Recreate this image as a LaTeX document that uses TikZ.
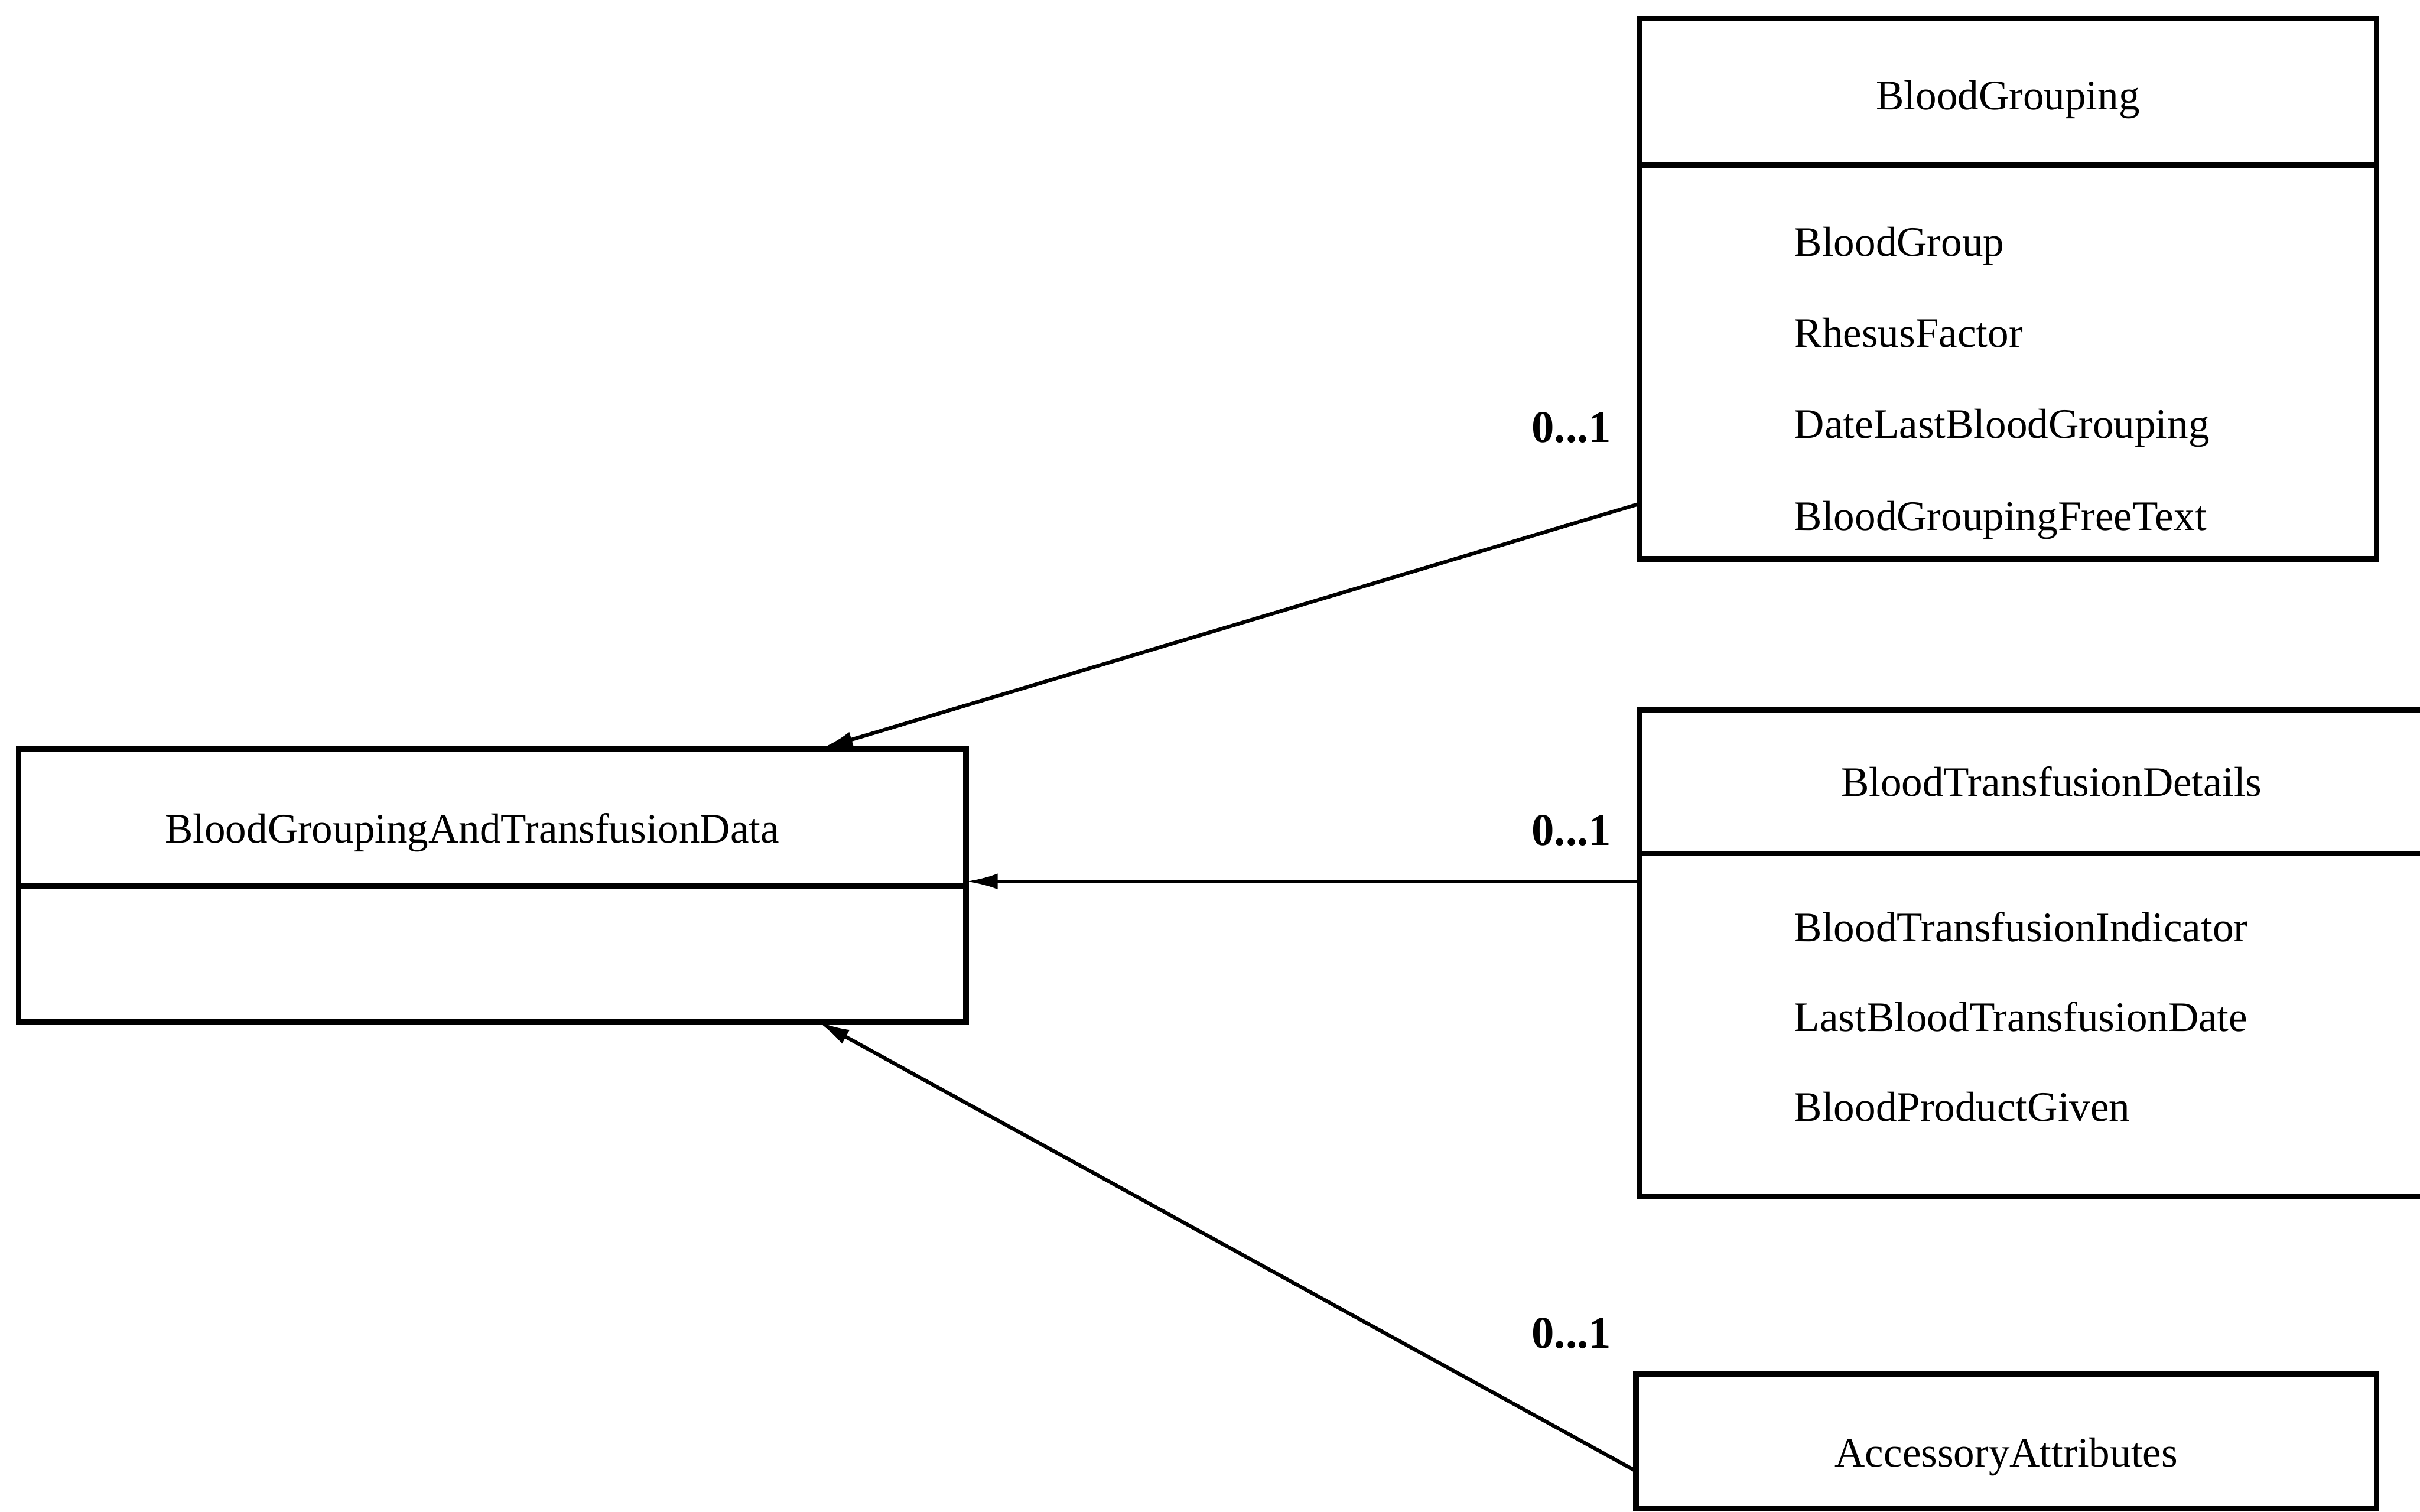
\documentclass[tikz,border=0pt]{standalone}
\usepackage{fontspec}
\setmainfont{Liberation Serif}
\usepackage{tikz}
\usetikzlibrary{arrows.meta, calc, positioning}

\tikzset{
  box/.style={draw, line width=1.5pt, inner sep=0pt, outer sep=0pt},
  title/.style={inner sep=0pt},
  attr/.style={inner sep=0pt, text height=1.6ex, text depth=0.45ex},
  mult/.style={font=\fontsize{12.2}{14}\selectfont\bfseries},
  conn/.style={line width=1pt, -{Latex[length=3mm,width=1.5mm]}}
}

\begin{document}
\begin{tikzpicture}[font=\fontsize{11.3}{13.6}\selectfont]
  \useasboundingbox (0,0) rectangle (22.885,14.295);

  % main class
  \node[box, minimum width=8.96cm, minimum height=1.3cm] (main) at (4.655,6.565) {};
  \node[box, minimum width=8.96cm, minimum height=1.28cm, below=0pt of main] (mainbody) {};
  \node[title] (maintitle) at (4.465,6.42) {BloodGroupingAndTransfusionData};

  % blood grouping
  \node[box, minimum width=6.975cm, minimum height=1.385cm] (bg) at (18.9875,13.4275) {};
  \node[box, minimum width=6.975cm, minimum height=3.725cm, below=0pt of bg] (bgbody) {};
  \node[title] (bgtitle) at (18.9875,13.355) {BloodGrouping};
  \node[attr, anchor=west] (bgattr1) at (16.96,11.965) {BloodGroup};
  \node[attr, below=0.86cm of bgattr1.west, anchor=west] (bgattr2) {RhesusFactor};
  \node[attr, below=0.86cm of bgattr2.west, anchor=west] (bgattr3) {DateLastBloodGrouping};
  \node[attr, below=0.87cm of bgattr3.west, anchor=west] (bgattr4) {BloodGroupingFreeText};

  % transfusion details
  \node[box, minimum width=7.8cm, minimum height=1.355cm] (btd) at (19.4,6.9025) {};
  \node[box, minimum width=7.8cm, minimum height=3.24cm, below=0pt of btd] (btdbody) {};
  \node[title] (btdtitle) at (19.4,6.9025) {BloodTransfusionDetails};
  \node[attr, anchor=west] (btdattr1) at (16.96,5.485) {BloodTransfusionIndicator};
  \node[attr, below=0.85cm of btdattr1.west, anchor=west] (btdattr2) {LastBloodTransfusionDate};
  \node[attr, below=0.85cm of btdattr2.west, anchor=west] (btdattr3) {BloodProductGiven};

  % accessory attributes
  \node[box, minimum width=7.005cm, minimum height=1.27cm] (acc) at (18.9725,0.67) {};
  \node[title] (acctitle) at (18.9725,0.52) {AccessoryAttributes};

  % multiplicities
  \node[mult] (m1) at (14.86,10.255) {0...1};
  \node[mult] (m2) at (14.86,6.44) {0...1};
  \node[mult] (m3) at (14.86,1.685) {0...1};

  \draw[conn] ($(bgbody.south west)+(0,0.52)$) -- ($(main.north west)+(7.59,0)$);
  \draw[conn] ($(btdbody.north west)+(0,-0.265)$) coordinate (c2) -- (c2 -| main.east);
  \draw[conn] ($(acc.south west)+(0,0.35)$) -- ($(mainbody.south west)+(7.56,0)$);
\end{tikzpicture}
\end{document}
